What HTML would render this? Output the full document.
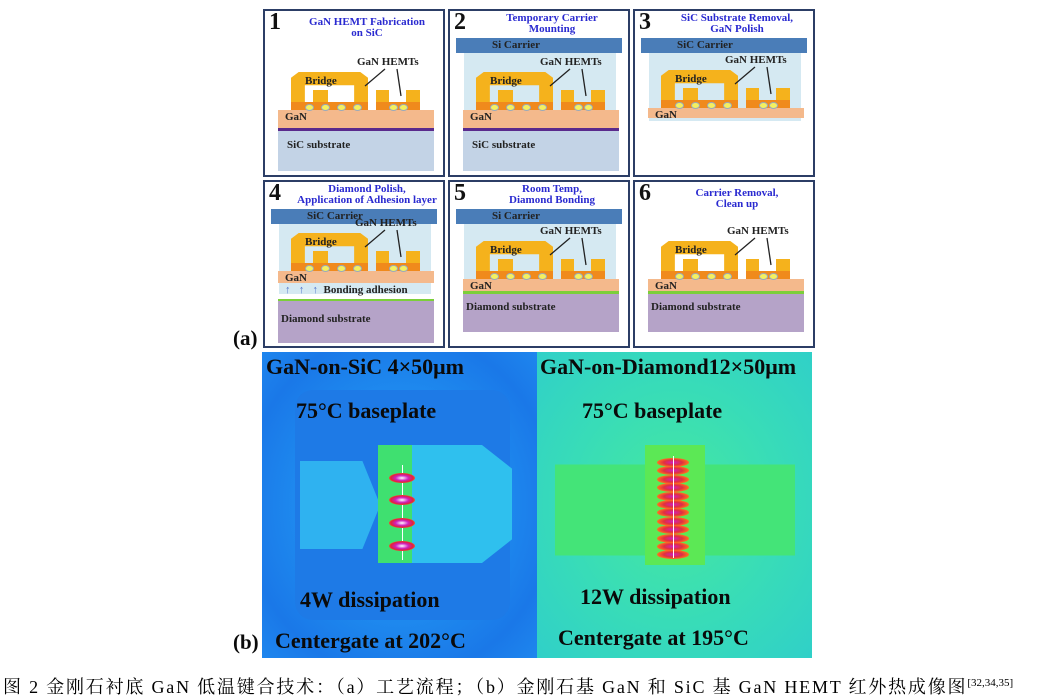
<!DOCTYPE html>
<html><head><meta charset="utf-8"><style>
body{margin:0;width:1049px;height:697px;background:#fff;position:relative;overflow:hidden;font-family:"Liberation Serif","Noto Serif CJK SC",serif}
.p{position:absolute;width:178px;height:164px;border:2px solid #2c3e66;background:#fff;overflow:hidden}
.a{position:absolute}
.num{position:absolute;left:4px;top:-2px;font:bold 24px "Liberation Serif",serif;color:#111}
.tt{position:absolute;color:#2a2ad0;font:bold 11px/11px "Liberation Serif",serif;text-align:center}
.lb{position:absolute;font:bold 11px "Liberation Serif",serif;color:#222;white-space:nowrap}
.th{position:absolute;font:bold 22px "Liberation Serif",serif;color:#0a0a0a;white-space:nowrap}
</style></head><body>
<div id="panels"></div>

<div class="a" style="left:262px;top:352px;width:275px;height:306px;background:radial-gradient(ellipse at 50% 50%,#2aa6f0 0%,#1f8ef0 45%,#1a78e8 80%,#1e86ee 100%)"></div>
<div class="a" style="left:295px;top:390px;width:215px;height:230px;border-radius:18px;background:#1e7ae6"></div>
<div class="a" style="left:300px;top:450px;width:78px;height:110px;background:#2fb2f0;clip-path:polygon(0 10%,80% 10%,100% 45%,100% 55%,80% 90%,0 90%)"></div>
<div class="a" style="left:412px;top:445px;width:100px;height:118px;background:#2fc0ee;clip-path:polygon(0 0,70% 0,100% 20%,100% 80%,70% 100%,0 100%)"></div>
<div class="a" style="left:378px;top:445px;width:34px;height:118px;background:#3fe070"></div>
<div class="a" style="left:402px;top:465px;width:1px;height:95px;background:#fff"></div>
<div class="a" style="left:537px;top:352px;width:275px;height:306px;background:radial-gradient(ellipse at 50% 50%,#46e8a0 0%,#38dcb8 55%,#30d0c8 100%)"></div>
<div class="a" style="left:555px;top:445px;width:240px;height:130px;background:#44e478;clip-path:polygon(0 15%,100% 15%,100% 85%,0 85%)"></div>
<div class="a" style="left:645px;top:445px;width:60px;height:120px;background:#5ce855"></div>
<div id="spots"></div>
<div class="th" style="left:266px;top:354px">GaN-on-SiC 4×50μm</div>
<div class="th" style="left:296px;top:398px">75°C baseplate</div>
<div class="th" style="left:300px;top:587px">4W dissipation</div>
<div class="th" style="left:275px;top:628px">Centergate at 202°C</div>
<div class="th" style="left:540px;top:354px">GaN-on-Diamond12×50μm</div>
<div class="th" style="left:582px;top:398px">75°C baseplate</div>
<div class="th" style="left:580px;top:584px">12W dissipation</div>
<div class="th" style="left:558px;top:625px">Centergate at 195°C</div>
<div class="th" style="left:233px;top:326px;font-size:21px">(a)</div>
<div class="th" style="left:233px;top:630px;font-size:21px">(b)</div>
<div class="a" style="left:3px;top:673px;font-size:18px;letter-spacing:1.8px;white-space:nowrap;font-family:'Liberation Serif','Noto Serif CJK SC',serif">图 2 金刚石衬底 GaN 低温键合技术：（a）工艺流程；（b）金刚石基 GaN 和 SiC 基 GaN HEMT 红外热成像图<sup style="font-size:11px;letter-spacing:0">[32,34,35]</sup></div>
<script>
var P=[
 {x:263,y:9,n:"1",t:"GaN HEMT Fabrication<br>on SiC",c:null,sub:"sic"},
 {x:448,y:9,n:"2",t:"Temporary Carrier<br>Mounting",c:"Si Carrier",sub:"sic"},
 {x:633,y:9,n:"3",t:"SiC Substrate Removal,<br>GaN Polish",c:"SiC Carrier",sub:"none"},
 {x:263,y:180,n:"4",t:"Diamond Polish,<br>Application of Adhesion layer",c:"SiC Carrier",sub:"dia4"},
 {x:448,y:180,n:"5",t:"Room Temp,<br>Diamond Bonding",c:"Si Carrier",sub:"dia"},
 {x:633,y:180,n:"6",t:"Carrier Removal,<br>Clean up",c:null,sub:"dia"}];
var h="";
P.forEach(function(p){
 var s='<div class="p" style="left:'+p.x+'px;top:'+p.y+'px">';
 s+='<div class="num">'+p.n+'</div>';
 s+='<div class="tt" style="left:24px;width:156px;top:'+(p.n=="1"||p.n=="6"?6:2)+'px">'+p.t+'</div>';
 if(p.c){s+='<div class="a" style="left:6px;top:27px;width:166px;height:15px;background:#4a7db8"></div><div class="lb" style="left:42px;top:28px">'+p.c+'</div>';
  s+='<div class="a" style="left:14px;top:42px;width:152px;height:'+(p.sub=="sic"?118:(p.sub=="none"?68:70))+'px;background:#d5e9f2"></div>';}
 var d=p.sub=="dia4"?-8:0;
 var gy=p.sub=="sic"?99:(p.sub=="none"?97:97+d);
 var gh=p.sub=="sic"?18:(p.sub=="none"?10:12);
 s+='<div class="a" style="left:13px;top:'+gy+'px;width:156px;height:'+gh+'px;background:#f4b98c"></div>';
 s+='<div class="lb" style="left:20px;top:'+(gy+1)+'px">GaN</div>';
 var by=gy-38;
 s+='<div class="a" style="left:26px;top:'+by+'px;width:77px;height:38px;background:#f5b21c;clip-path:polygon(10% 0,90% 0,100% 15%,100% 100%,82% 100%,82% 35%,18% 35%,18% 100%,0 100%,0 15%)"></div>';
 s+='<div class="a" style="left:48px;top:'+(by+18)+'px;width:15px;height:20px;background:#f5b21c"></div>';
 s+='<div class="a" style="left:111px;top:'+(by+18)+'px;width:13px;height:20px;background:#f5b21c"></div>';
 s+='<div class="a" style="left:141px;top:'+(by+18)+'px;width:14px;height:20px;background:#f5b21c"></div>';
 s+='<div class="a" style="left:26px;top:'+(gy-8)+'px;width:77px;height:8px;background:#f08a1c"></div>';
 s+='<div class="a" style="left:111px;top:'+(gy-8)+'px;width:44px;height:8px;background:#f08a1c"></div>';
 [40,56,72,88,124,134].forEach(function(q){s+='<div class="a" style="left:'+q+'px;top:'+(gy-6)+'px;width:7px;height:5px;border-radius:50%;background:#f4f060;border:1px solid #9ab"></div>';});
 s+='<div class="lb" style="left:40px;top:'+(by+3)+'px">Bridge</div>';
 s+='<div class="lb" style="left:'+(p.c?90:92)+'px;top:'+(by-16)+'px">GaN HEMTs</div>';
 s+='<svg class="a" style="left:0;top:0" width="178" height="164"><path d="M120 '+(by-3)+' L100 '+(by+14)+' M132 '+(by-3)+' L136 '+(by+24)+'" stroke="#222" stroke-width="1.3" fill="none"/></svg>';
 if(p.sub=="sic"){s+='<div class="a" style="left:13px;top:117px;width:156px;height:3px;background:#5a2a8c"></div><div class="a" style="left:13px;top:120px;width:156px;height:40px;background:#c3d3e6"></div><div class="lb" style="left:22px;top:128px">SiC substrate</div>';}
 if(p.sub=="dia"){s+='<div class="a" style="left:13px;top:'+(gy+gh)+'px;width:156px;height:3px;background:#7ccf3a"></div><div class="a" style="left:13px;top:'+(gy+gh+3)+'px;width:156px;height:38px;background:#b5a3c8"></div><div class="lb" style="left:16px;top:'+(gy+gh+10)+'px">Diamond substrate</div>';}
 if(p.sub=="dia4"){s+='<div class="lb" style="left:20px;top:'+(gy+gh+1)+'px;color:#57c">↑ &nbsp; ↑ &nbsp; ↑ &nbsp;<span style="color:#222">Bonding adhesion</span></div><div class="a" style="left:13px;top:'+(gy+gh+16)+'px;width:156px;height:2px;background:#7ccf3a"></div><div class="a" style="left:13px;top:'+(gy+gh+18)+'px;width:156px;height:42px;background:#b5a3c8"></div><div class="lb" style="left:16px;top:'+(gy+gh+30)+'px">Diamond substrate</div>';}
 s+='</div>';h+=s;});
document.getElementById("panels").innerHTML=h;
var sp="";
[478,500,523,546].forEach(function(y){sp+='<div class="a" style="left:389px;top:'+(y-5)+'px;width:26px;height:10px;border-radius:50%;background:radial-gradient(ellipse,#fff 0%,#d020c0 35%,#e02040 60%,#ff8020 80%,#ffe040 100%)"></div>';});
for(var i=0;i<12;i++){var y=462+i*8.4;sp+='<div class="a" style="left:657px;top:'+(y-4)+'px;width:32px;height:9px;border-radius:50%;background:radial-gradient(ellipse,#d020c0 0%,#e03040 40%,#ff7020 70%,#ffd040 100%)"></div>';}
sp+='<div class="a" style="left:673px;top:456px;width:1px;height:102px;background:#fff"></div>';
document.getElementById("spots").innerHTML=sp;
</script>
</body></html>
